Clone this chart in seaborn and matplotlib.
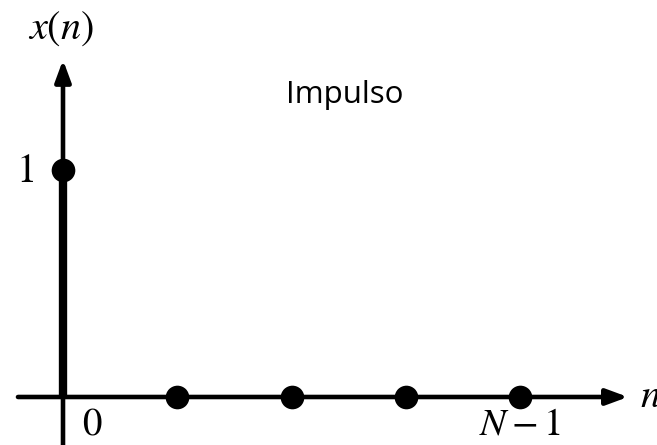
import matplotlib
matplotlib.use("Agg")
import matplotlib.pyplot as plt
from matplotlib.patches import ArrowStyle
import seaborn as sns
import pandas as pd

# Discrete unit impulse: x(n) = 1 at n = 0, zero elsewhere
n_values = [0, 1, 2, 3, 4]
x_values = [1, 0, 0, 0, 0]
title_text = "Impulso"
first_label = "0"
last_label = r"N-1"

sns.set_style("white")
plt.rcParams["mathtext.fontset"] = "stix"
plt.rcParams["font.family"] = ["Open Sans", "DejaVu Sans"]
plt.rcParams["text.color"] = "black"

df = pd.DataFrame({"n": n_values, "x": x_values})

fig = plt.figure(figsize=(6.57, 4.45), dpi=100)
ax = fig.add_axes([0, 0, 1, 1])
ax.set_xlim(-0.5514, 5.199)
ax.set_ylim(-0.2115, 1.7489)
ax.axis("off")

head = ArrowStyle("-|>", head_length=0.65, head_width=0.24)

# Axes with arrow heads
ax.annotate("", xy=(0, 1.485), xytext=(0, -0.2115),
            arrowprops=dict(arrowstyle=head, lw=3.3, color="black",
                            shrinkA=0, shrinkB=0, mutation_scale=20))
ax.annotate("", xy=(4.945, 0), xytext=(-0.394, 0),
            arrowprops=dict(arrowstyle=head, lw=3.3, color="black",
                            shrinkA=0, shrinkB=0, mutation_scale=20))

# Stems from the axis to each sample
for n, x in zip(df["n"], df["x"]):
    if x != 0:
        ax.plot([n, n], [0, x], color="black", lw=6, solid_capstyle="butt", zorder=3)

# Sample markers
sns.scatterplot(data=df, x="n", y="x", ax=ax, color="black", s=290,
                edgecolor="black", linewidth=0, zorder=4, legend=False)

# Labels
ax.text(-0.0175, 1.625, r"$x(n)$", ha="center", va="center", fontsize=29)
ax.text(-0.333, 0.991, r"$1$", ha="center", va="center", fontsize=29)
ax.text(0.254, -0.122, r"$%s$" % first_label, ha="center", va="center", fontsize=28)
ax.text(4.0, -0.122, r"$%s$" % last_label, ha="center", va="center", fontsize=28)
ax.text(5.05, 0.0, r"$n$", ha="left", va="center", fontsize=29)
ax.text(2.468, 1.330, title_text, ha="center", va="center", fontsize=22.5)

fig.savefig("out.png", dpi=100)
